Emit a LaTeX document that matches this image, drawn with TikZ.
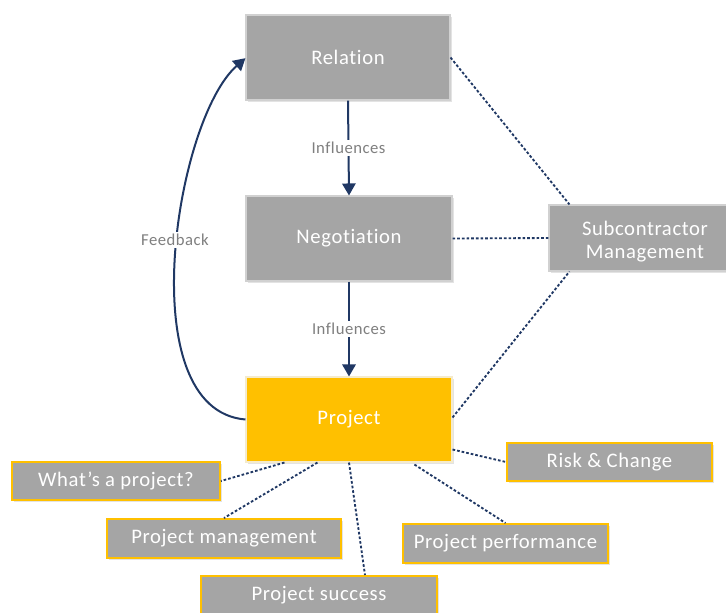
\documentclass[tikz,border=0pt]{standalone}
\usepackage{fontspec}
\setmainfont{Carlito}[Ligatures={NoCommon},LetterSpace=3]
\usetikzlibrary{arrows.meta,shadows}
\definecolor{boxgray}{HTML}{A5A5A5}
\definecolor{gold}{HTML}{FFC000}
\definecolor{navy}{HTML}{203864}
\definecolor{lblgray}{HTML}{7F7F7F}
\begin{document}
\begin{tikzpicture}[x=0.75pt,y=-0.75pt,
  base/.style={inner sep=0pt,align=center,text=white,font=\fontsize{15.5}{17.5}\selectfont,
    drop shadow={opacity=0.22,shadow xshift=1.2pt,shadow yshift=-1.5pt}},
  graybox/.style={base,fill=boxgray,draw=black!18,line width=0.8pt},
  goldbox/.style={base,fill=gold,draw=gold!80!black!20!white,line width=0.8pt},
  topicbox/.style={base,fill=boxgray,draw=gold,line width=1.5pt},
  infl/.style={draw=navy,line width=1.5pt,-{Triangle[width=10pt,length=9pt]}},
  dots/.style={draw=navy,line width=1.4pt,dash pattern=on 2pt off 1.5pt},
  lbl/.style={fill=white,text=lblgray,font=\fontsize{12.5}{14}\selectfont,inner sep=1.5pt}]
\useasboundingbox (0,0) rectangle (726,612);
\clip (0,0) rectangle (726,612);
\node[graybox,minimum width=153pt,minimum height=63.75pt] (rel) at (348,57.5) {Relation};
\node[graybox,minimum width=154.5pt,minimum height=63.75pt] (neg) at (349,238.5) {Negotiation};
\node[goldbox,minimum width=154.5pt,minimum height=63.75pt] (proj) at (349,419.5) {Project};
\node[graybox,minimum width=144pt,minimum height=49.5pt] (sub) at (645,238) {\raisebox{-3pt}[\height][\depth]{\begin{tabular}{@{}c@{}}Subcontractor\\Management\end{tabular}}};
\node[topicbox,minimum width=156pt,minimum height=28.5pt] (what) at (116,481) {What’s a project?};
\node[topicbox,minimum width=175.5pt,minimum height=29.25pt] (pm) at (224,538.5) {Project management};
\node[topicbox,minimum width=177pt,minimum height=28.5pt] (ps) at (319,595) {Project success};
\node[topicbox,minimum width=153.75pt,minimum height=29.25pt] (pp) at (505.5,543.5) {Project performance};
\node[topicbox,minimum width=153.75pt,minimum height=28.5pt] (rc) at (609.5,462) {Risk \& Change};
% influences
\draw[infl] (rel.south) -- node[lbl] (i1) {Influences} (neg.north);
\draw[infl] (neg.south) -- node[lbl] (i2) {Influences} (proj.north);
% feedback
\draw[draw=navy,line width=1.5pt,-{Triangle[width=10pt,length=9pt]}] (proj.west) .. controls (130,410) and (175,120) .. ([yshift=-0.5pt]rel.west);
\node[lbl] (fb) at (175,240) {Feedback};
% dotted links
\draw[dots] (rel.east) -- ([xshift=15.75pt]sub.north west);
\draw[dots] (neg.east) -- (sub.west);
\draw[dots] ([yshift=1.5pt]proj.east) -- ([xshift=15.75pt]sub.south west);
\draw[dots] ([xshift=29.25pt]proj.south west) -- (what.east);
\draw[dots] ([xshift=54pt]proj.south west) -- (pm.north);
\draw[dots] (proj.south) -- ([xshift=123.75pt]ps.north west);
\draw[dots] ([xshift=126.75pt,yshift=-1.5pt]proj.south west) -- (pp.north);
\draw[dots] ([yshift=-22.5pt]proj.east) -- (rc.west);
\end{tikzpicture}
\end{document}
